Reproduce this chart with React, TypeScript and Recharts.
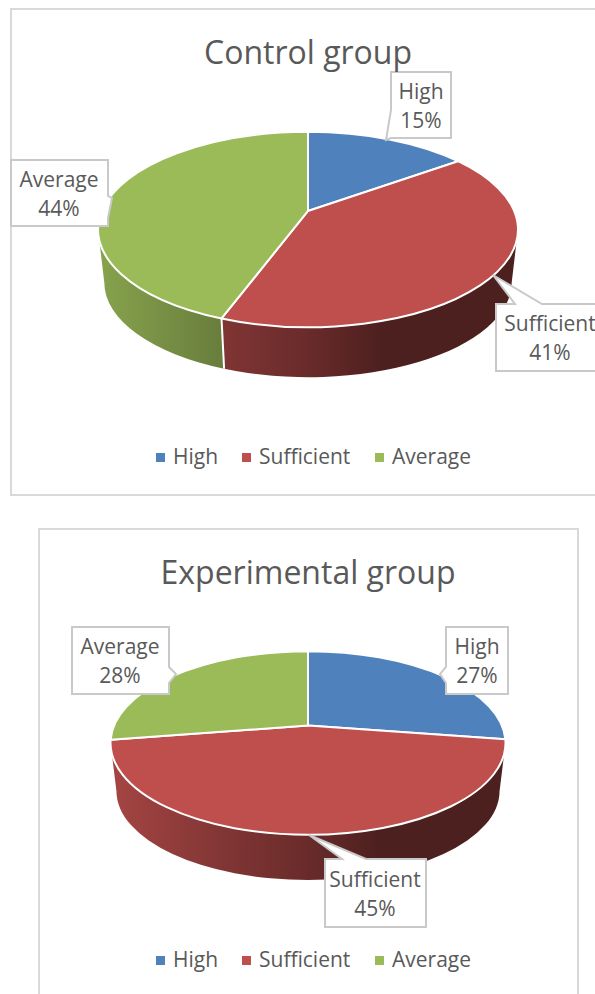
import { PieChart, Pie, Legend } from 'recharts'

const categories = ['High', 'Sufficient', 'Average']
const colors = ['#4f81bd', '#be4f4d', '#9bbb59']
// labels print these rounded; the slice boundaries show the fractions
const controlValues = [15, 40.6, 44.4]
const experimentalValues = [27.4, 45.1, 27.5]

const FONT = '"Open Sans", sans-serif'
const TEXT = '#595959'
const BORDER = '#c9c9c9'

// tilt of the disc and the perspective shift of its centre
const TILT = 0.465
const SHIFT = 0.19
const BOTTOM_SCALE = 0.97

const controlLabels = [
    { tx: 421, ty: 92, pts: '391,72 451,72 451,138 391,138 386,140 391,110' },
    { tx: 550, ty: 324, pts: '496,304 515,304 493,275 542,304 610,304 610,371 496,371' },
    { tx: 59, ty: 180, pts: '11,160 108,160 108,196 112,198 108,218 108,226 11,226' },
]
const experimentalLabels = [
    { tx: 477, ty: 647, pts: '446,627 508,627 508,694 446,694 446,683 440,674 446,667' },
    { tx: 375, ty: 880, pts: '325,859 342,859 309,835 366,859 426,859 426,927 325,927' },
    { tx: 120, ty: 647, pts: '72,627 169,627 169,667 176,674 169,683 169,694 72,694' },
]

const legendStarts = [156, 242, 375]

const toRows = (values: number[]) =>
    categories.map((name, i) => ({ name, value: values[i], fill: colors[i] }))

// real pie angle -> point on the unit ellipse
function project(deg: number) {
    const t = ((90 - deg) * Math.PI) / 180
    const x = Math.sin(t)
    const y = Math.cos(t)
    const d = 1 + SHIFT * y
    return { x: (x * Math.sqrt(1 - SHIFT * SHIFT)) / d, y: (y + SHIFT) / d }
}

// clockwise-from-top angle of a projected point, kept growing past 360
function clockAngle(deg: number, prev = -1) {
    const p = project(deg)
    let a = (Math.atan2(p.x, p.y) * 180) / Math.PI
    if (a < 0) a += 360
    while (a < prev) a += 360
    return a
}

function TopSlice(props: any) {
    const { cx, cy, outerRadius: rx, startAngle, endAngle, fill } = props
    const ry = rx * TILT
    const a = project(startAngle)
    const b = project(endAngle)
    const large = clockAngle(endAngle, clockAngle(startAngle)) - clockAngle(startAngle) > 180 ? 1 : 0
    const d = `M${cx},${cy - SHIFT * ry} L${cx + a.x * rx},${cy - a.y * ry} A${rx},${ry} 0 ${large} 1 ${cx + b.x * rx},${cy - b.y * ry} Z`
    return <path d={d} fill={fill} stroke="#fff" strokeWidth={2} strokeLinejoin="round" />
}

function WallSlice(props: any) {
    const { cx, cy, outerRadius: rx, startAngle, endAngle, fill, depth, index } = props
    const s = clockAngle(startAngle)
    const e = clockAngle(endAngle, s)
    const from = Math.max(s, 90)
    const to = Math.min(e, 270)
    if (to <= from) return <g />
    const ry = rx * TILT
    const rx2 = rx * BOTTOM_SCALE
    const ry2 = ry * BOTTOM_SCALE
    const cy2 = cy + depth
    const pt = (deg: number, rrx: number, rry: number, cyy: number) => {
        const r = (deg * Math.PI) / 180
        return `${cx + Math.sin(r) * rrx},${cyy - Math.cos(r) * rry}`
    }
    const d = `M${pt(from, rx, ry, cy)} A${rx},${ry} 0 0 1 ${pt(to, rx, ry, cy)} L${pt(to, rx2, ry2, cy2)} A${rx2},${ry2} 0 0 0 ${pt(from, rx2, ry2, cy2)} Z`
    const id = `wall-${Math.round(cx + cy)}-${index}`
    const shade = (f: number) => {
        const n = parseInt(fill.slice(1), 16)
        return `rgb(${((n >> 16) & 255) * f},${((n >> 8) & 255) * f},${(n & 255) * f})`
    }
    return (
        <g>
            <defs>
                <linearGradient id={id} gradientUnits="userSpaceOnUse" x1={cx - rx} x2={cx + rx} y1={0} y2={0}>
                    <stop offset="0" stopColor={shade(0.87)} />
                    <stop offset="0.3" stopColor={shade(0.67)} />
                    <stop offset="0.5" stopColor={shade(0.55)} />
                    <stop offset="0.68" stopColor={shade(0.4)} />
                    <stop offset="1" stopColor={shade(0.4)} />
                </linearGradient>
            </defs>
            <path d={d} fill={`url(#${id})`} stroke="none" />
            {from === s && s > 90 && (
                <line
                    x1={pt(from, rx, ry, cy).split(',')[0]}
                    y1={pt(from, rx, ry, cy).split(',')[1]}
                    x2={pt(from, rx2, ry2, cy2).split(',')[0]}
                    y2={pt(from, rx2, ry2, cy2).split(',')[1]}
                    stroke="#fff"
                    strokeWidth={2}
                />
            )}
        </g>
    )
}

function CalloutLabel(props: any) {
    const { index, name, value, boxes, offsetY } = props
    const box = boxes[index]
    const pts = box.pts
        .split(' ')
        .map((p: string) => {
            const [x, y] = p.split(',')
            return `${x},${Number(y) - offsetY}`
        })
        .join(' ')
    return (
        <g>
            <polygon points={pts} fill="#fff" stroke={BORDER} strokeWidth={2} />
            <text textAnchor="middle" fontFamily={FONT} fontSize={21} fill={TEXT}>
                <tspan x={box.tx} y={box.ty - offsetY + 7}>{name}</tspan>
                <tspan x={box.tx} y={box.ty - offsetY + 36}>{`${Math.round(value)}%`}</tspan>
            </text>
        </g>
    )
}

function GroupLegend({ payload }: any) {
    const items = (payload ?? []).filter((item: any) => item.type !== 'none')
    return (
        <div style={{ position: 'relative', width: 595, height: 28, fontFamily: FONT, fontSize: 21, color: TEXT }}>
            {items.map((item: any) => (
                <div key={item.value} style={{ position: 'absolute', left: legendStarts[categories.indexOf(item.value)], top: 0, lineHeight: '28px', whiteSpace: 'nowrap' }}>
                    <span style={{ display: 'inline-block', width: 9, height: 9, background: item.color, marginRight: 8, verticalAlign: 2 }} />
                    {item.value}
                </div>
            ))}
        </div>
    )
}

function GroupPie({ values, boxes, top, height, cy, radius, depth, title, titleTop, legendTop }: any) {
    const rows = toRows(values)
    return (
        <div style={{ position: 'absolute', left: 0, top, width: 595, height }}>
            <PieChart width={595} height={height} margin={{ top: 0, right: 0, bottom: 0, left: 0 }}>
                <Pie
                    data={rows}
                    dataKey="value"
                    nameKey="name"
                    cx={308}
                    cy={cy}
                    outerRadius={radius}
                    startAngle={90}
                    endAngle={-270}
                    legendType="none"
                    isAnimationActive={false}
                    shape={(p: any) => <WallSlice {...p} depth={depth} />}
                />
                <Pie
                    data={rows}
                    dataKey="value"
                    nameKey="name"
                    cx={308}
                    cy={cy}
                    outerRadius={radius}
                    startAngle={90}
                    endAngle={-270}
                    isAnimationActive={false}
                    labelLine={false}
                    shape={(p: any) => <TopSlice {...p} />}
                    label={(p: any) => <CalloutLabel {...p} boxes={boxes} offsetY={top} />}
                />
                <Legend content={(p: any) => <GroupLegend payload={p.payload} />} wrapperStyle={{ left: 0, top: legendTop, width: 595 }} />
            </PieChart>
            <div style={{ position: 'absolute', left: 0, top: titleTop, width: 616, textAlign: 'center', fontFamily: FONT, fontSize: 32, color: TEXT, lineHeight: '44px' }}>
                {title}
            </div>
        </div>
    )
}

export default function App() {
    return (
        <div style={{ position: 'absolute', left: 0, top: 0, width: 595, height: 994, overflow: 'hidden', background: '#fff' }}>
            <div style={{ position: 'absolute', left: 10, top: 8, width: 620, height: 484, border: '2px solid #d9d9d9' }} />
            <div style={{ position: 'absolute', left: 38, top: 528, width: 537, height: 500, border: '2px solid #d9d9d9' }} />
            <GroupPie values={controlValues} boxes={controlLabels} top={0} height={500} cy={229.5} radius={210} depth={53} title="Control group" titleTop={30} legendTop={442} />
            <GroupPie values={experimentalValues} boxes={experimentalLabels} top={500} height={494} cy={243} radius={197.5} depth={48} title="Experimental group" titleTop={50} legendTop={445} />
        </div>
    )
}
